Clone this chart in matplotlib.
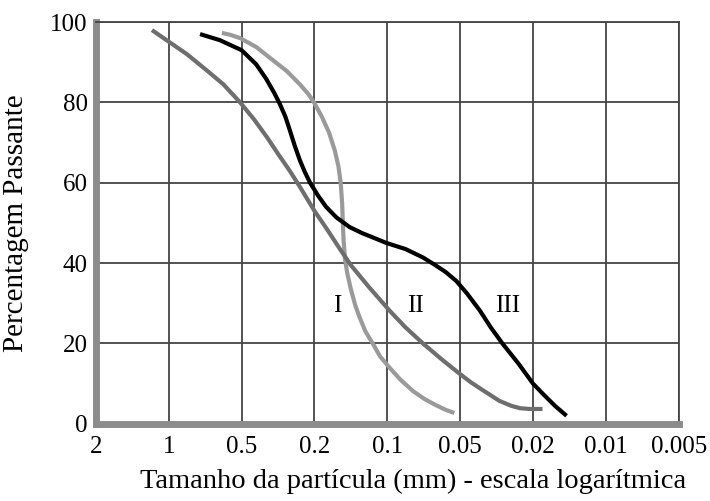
import numpy as np
import matplotlib.pyplot as plt

plt.rcParams['font.family'] = ['Liberation Serif', 'DejaVu Serif']

# x axis: evenly spaced positions for the particle sizes (mm)
tick_labels = ['2', '1', '0.5', '0.2', '0.1', '0.05', '0.02', '0.01', '0.005']

# Curve I - x in tick-position units, y in % passing
x1 = [1.73, 1.85, 1.98, 2.20, 2.43, 2.62, 2.80, 2.92, 3.00, 3.10, 3.20, 3.28,
      3.33, 3.36, 3.38, 3.39, 3.40, 3.42, 3.45, 3.50, 3.56, 3.62, 3.70, 3.80,
      3.90, 4.03, 4.18, 4.35, 4.50, 4.65, 4.80, 4.92]
y1 = [97.3, 96.8, 96.0, 93.8, 90.5, 87.8, 84.5, 82.0, 79.8, 76.5, 72.5, 68.0,
      64.0, 60.0, 55.0, 50.0, 45.6, 41.0, 37.5, 33.5, 29.5, 26.5, 23.0, 20.0,
      16.8, 14.0, 11.0, 8.2, 6.3, 4.8, 3.5, 2.7]

# Curve II
x2 = [0.77, 0.97, 1.25, 1.52, 1.75, 1.98, 2.17, 2.35, 2.50, 2.66, 2.80, 3.00,
      3.17, 3.35, 3.50, 3.75, 4.03, 4.25, 4.49, 4.75, 4.99, 5.15, 5.30, 5.54,
      5.70, 5.82, 5.95, 6.13]
y2 = [98.0, 95.5, 92.0, 88.0, 84.5, 80.0, 75.8, 71.3, 67.2, 63.0, 59.0, 53.0,
      48.5, 43.5, 39.5, 34.0, 28.2, 24.0, 20.0, 16.0, 12.5, 10.3, 8.5, 5.7,
      4.5, 3.9, 3.7, 3.7]

# Curve III
x3 = [1.43, 1.70, 2.00, 2.20, 2.34, 2.45, 2.52, 2.60, 2.66, 2.73, 2.80, 2.87,
      2.94, 3.05, 3.16, 3.30, 3.48, 3.65, 3.80, 3.99, 4.25, 4.49, 4.65, 4.80,
      4.95, 5.10, 5.27, 5.42, 5.58, 5.80, 6.00, 6.15, 6.30, 6.46]
y3 = [97.0, 95.5, 93.0, 89.5, 85.8, 82.3, 79.8, 76.5, 73.2, 69.2, 65.6, 62.6,
      60.0, 56.8, 54.0, 51.4, 49.0, 47.5, 46.4, 45.0, 43.5, 41.4, 39.6, 37.8,
      35.5, 32.3, 28.2, 24.0, 20.0, 15.0, 10.0, 7.2, 4.5, 2.0]

labels = ['I', 'II', 'III']
label_x = [3.32, 4.38, 5.65]
label_y = [29.4, 29.4, 29.4]

fig = plt.figure(figsize=(7.1, 5.01), dpi=100)
ax = fig.add_axes([0.135, 0.154, 0.821, 0.802])

ax.plot(x1, y1, color='#9a9a9a', lw=3.0, solid_capstyle='butt', zorder=3)
ax.plot(x2, y2, color='#6e6e6e', lw=3.0, solid_capstyle='butt', zorder=3)
ax.plot(x3, y3, color='black', lw=3.0, solid_capstyle='butt', zorder=4)

for t, lx, ly in zip(labels, label_x, label_y):
    ax.text(lx, ly, t, fontsize=18, ha='center', va='center')

ax.set_xlim(0, 8)
ax.set_ylim(0, 100)
ax.set_xticks(range(len(tick_labels)))
ax.set_xticklabels(tick_labels)
ax.set_yticks([0, 20, 40, 60, 80, 100])
ax.tick_params(length=0, labelsize=18)
ax.tick_params(axis='x', pad=9)
ax.tick_params(axis='y', pad=6)
ax.grid(True, color='#444444', lw=1.3)
ax.set_axisbelow(True)

for s in ['top', 'right']:
    ax.spines[s].set_color('#444444')
    ax.spines[s].set_linewidth(1.3)
for s in ['left', 'bottom']:
    ax.spines[s].set_color('#8c8c8c')
    ax.spines[s].set_linewidth(5)

ax.set_xlabel('Tamanho da partícula (mm) - escala logarítmica', fontsize=20.5)
ax.xaxis.set_label_coords(0.545, -0.112)
ax.set_ylabel('Percentagem Passante', fontsize=21)
ax.yaxis.set_label_coords(-0.115, 0.5)

fig.savefig('out.png', dpi=100)
